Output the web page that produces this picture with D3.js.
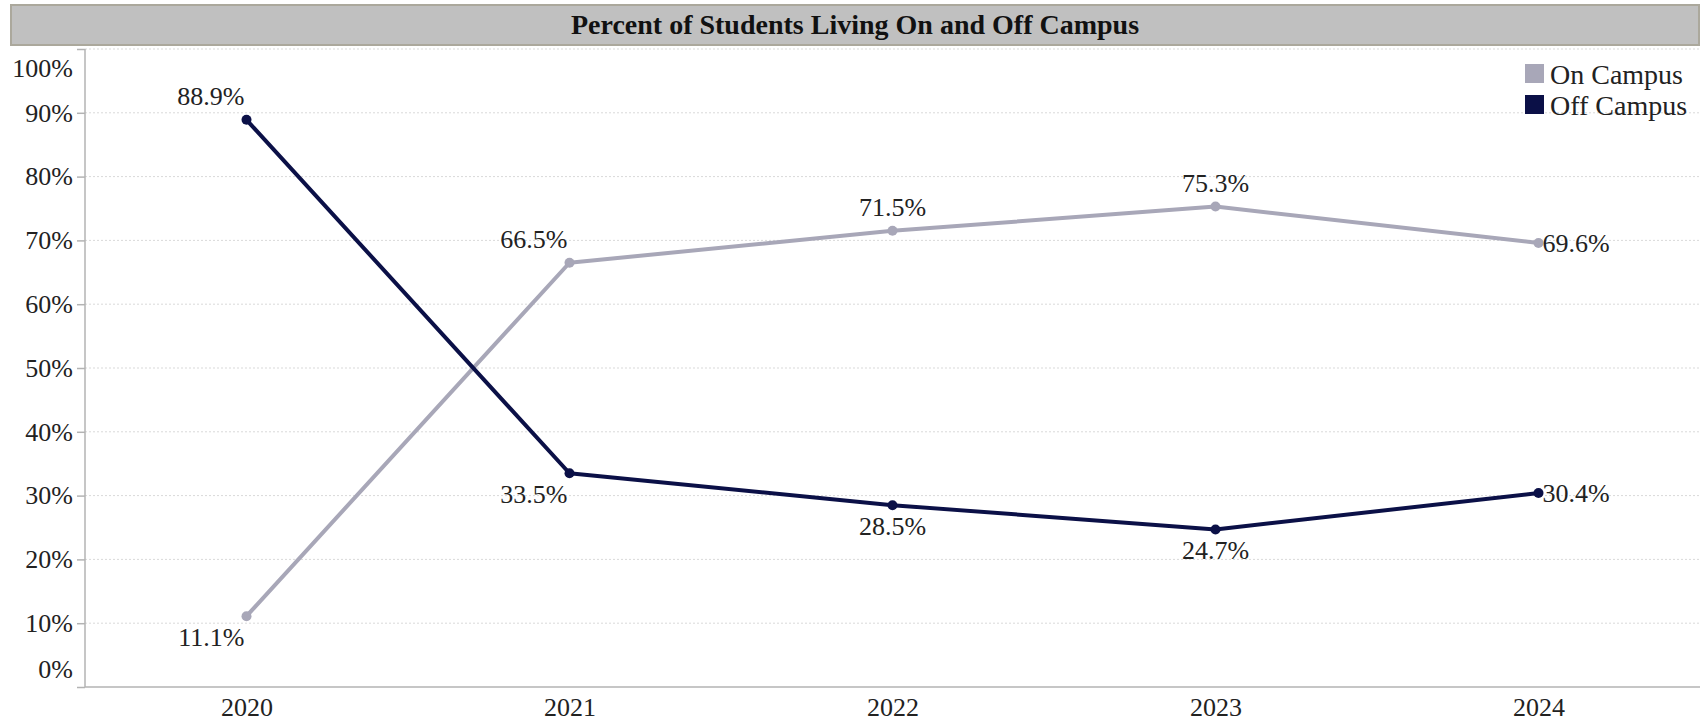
<!DOCTYPE html>
<html>
<head>
<meta charset="utf-8">
<script src="https://cdn.jsdelivr.net/npm/d3@7"></script>
<style>
  body { margin: 0; background: #fff; }
  svg { display: block; font-family: "Liberation Serif", "Times New Roman", serif; }
  .grid line { stroke: #d9d9d9; stroke-dasharray: 2,2; }
  .axis-line { stroke: #b3b3b3; stroke-width: 1.5; }
</style>
</head>
<body>
<div id="chart"></div>
<script>
const years = ["2020", "2021", "2022", "2023", "2024"];
const onCampus = [11.1, 66.5, 71.5, 75.3, 69.6];
const offCampus = [88.9, 33.5, 28.5, 24.7, 30.4];
const yTicks = [0, 10, 20, 30, 40, 50, 60, 70, 80, 90, 100];
const seriesNames = ["On Campus", "Off Campus"];
const seriesColors = ["#a8a7b8", "#0b1047"];
const title = "Percent of Students Living On and Off Campus";

class LineChart {
  constructor({ el }) {
    this.el = el;
    this.width = 1707;
    this.height = 722;
    this.init();
  }

  init() {
    this.series = [onCampus, offCampus].map((values, i) => ({
      name: seriesNames[i],
      color: seriesColors[i],
      values: values.map((v, j) => ({ year: years[j], value: v, i: j })),
    }));

    this.marginTop = 49;
    this.marginRight = 7;
    this.marginBottom = 35;
    this.marginLeft = 85;

    this.x = d3
      .scalePoint()
      .domain(years)
      .range([this.marginLeft, this.width - this.marginRight])
      .padding(0.5);

    this.y = d3
      .scaleLinear()
      .domain([0, 100])
      .range([this.height - this.marginBottom, this.marginTop]);

    this.line = d3
      .line()
      .x((d) => this.x(d.year))
      .y((d) => this.y(d.value));

    this.svg = d3
      .select(this.el)
      .append("svg")
      .attr("width", this.width)
      .attr("height", this.height)
      .attr("viewBox", [0, 0, this.width, this.height]);

    this.render();
  }

  render() {
    this.renderTitle();
    this.renderGrid();
    this.renderAxes();
    this.renderLines();
    this.renderLabels();
    this.renderLegend();
  }

  renderTitle() {
    const g = this.svg.append("g").attr("class", "title");
    g.append("rect")
      .attr("x", 11)
      .attr("y", 5)
      .attr("width", this.width - 11 - 8)
      .attr("height", 40)
      .attr("fill", "#c0c0c0")
      .attr("stroke", "#aba89c")
      .attr("stroke-width", 2);
    g.append("text")
      .attr("x", (11 + this.width - 8) / 2)
      .attr("y", 34)
      .attr("text-anchor", "middle")
      .attr("font-size", 28)
      .attr("font-weight", "bold")
      .attr("fill", "#111")
      .text(title);
  }

  renderGrid() {
    this.svg
      .append("g")
      .attr("class", "grid")
      .selectAll("line")
      .data(yTicks.filter((d) => d > 0))
      .join("line")
      .attr("x1", this.marginLeft)
      .attr("x2", this.width - this.marginRight)
      .attr("y1", (d) => this.y(d))
      .attr("y2", (d) => this.y(d));
  }

  renderAxes() {
    const [y0, y1] = this.y.range();

    const yAxis = d3
      .axisLeft(this.y)
      .tickValues(yTicks)
      .tickSize(8)
      .tickPadding(4)
      .tickFormat((d) => d + "%");

    const gy = this.svg
      .append("g")
      .attr("transform", `translate(${this.marginLeft},0)`)
      .call(yAxis)
      .attr("font-family", null)
      .attr("font-size", null);
    gy.select(".domain").remove();
    gy.selectAll(".tick line").attr("stroke", "#b3b3b3").attr("stroke-width", 1.5);
    gy.selectAll(".tick text")
      .attr("font-size", 26)
      .attr("fill", "#222")
      // keep the end labels inside the plot edges
      .attr("dy", (d) => (d === 0 ? "-0.35em" : d === 100 ? "1.05em" : "0.32em"));

    this.svg
      .append("line")
      .attr("class", "axis-line")
      .attr("x1", this.marginLeft)
      .attr("x2", this.marginLeft)
      .attr("y1", y1)
      .attr("y2", y0);

    this.svg
      .append("line")
      .attr("class", "axis-line")
      .attr("x1", this.marginLeft)
      .attr("x2", this.width - this.marginRight)
      .attr("y1", y0)
      .attr("y2", y0);

    const gx = this.svg
      .append("g")
      .attr("transform", `translate(0,${y0})`)
      .call(d3.axisBottom(this.x).tickSize(0).tickPadding(8))
      .attr("font-family", null)
      .attr("font-size", null);
    gx.select(".domain").remove();
    gx.selectAll(".tick text")
      .attr("font-size", 26)
      .attr("fill", "#222")
      .attr("dy", "0.8em");
  }

  renderLines() {
    const g = this.svg
      .append("g")
      .selectAll("g")
      .data(this.series)
      .join("g");

    g.append("path")
      .attr("fill", "none")
      .attr("stroke", (d) => d.color)
      .attr("stroke-width", 4)
      .attr("stroke-linejoin", "round")
      .attr("d", (d) => this.line(d.values));

    g.selectAll("circle")
      .data((d) => d.values.map((v) => ({ ...v, color: d.color })))
      .join("circle")
      .attr("cx", (d) => this.x(d.year))
      .attr("cy", (d) => this.y(d.value))
      .attr("r", 5)
      .attr("fill", (d) => d.color);
  }

  renderLabels() {
    const last = years.length - 1;
    const labels = [];
    this.series.forEach((s, si) => {
      const other = this.series[1 - si].values;
      s.values.forEach((d) => {
        const above = d.value >= other[d.i].value;
        // steep neighbouring segments push the label to the left of the point
        const prev = s.values[d.i - 1];
        const next = s.values[d.i + 1];
        const steep =
          (prev && Math.abs(prev.value - d.value) > 20) ||
          (next && Math.abs(next.value - d.value) > 20);
        labels.push({ ...d, above, steep, isLast: d.i === last });
      });
    });

    this.svg
      .append("g")
      .selectAll("text")
      .data(labels)
      .join("text")
      .attr("font-size", 26)
      .attr("fill", "#222")
      .attr("x", (d) => {
        const px = this.x(d.year);
        if (d.isLast) return px + 4;
        return d.steep ? px - 2 : px;
      })
      .attr("y", (d) => {
        const py = this.y(d.value);
        if (d.isLast) return py;
        return d.above ? py - 15 : py + 30;
      })
      .attr("dy", (d) => (d.isLast ? "0.33em" : null))
      .attr("text-anchor", (d) => (d.isLast ? "start" : d.steep ? "end" : "middle"))
      .text((d) => d.value.toFixed(1) + "%");
  }

  renderLegend() {
    const item = this.svg
      .append("g")
      .attr("transform", "translate(1525,64)")
      .selectAll("g")
      .data(this.series)
      .join("g")
      .attr("transform", (d, i) => `translate(0,${i * 31})`);

    item
      .append("rect")
      .attr("width", 19)
      .attr("height", 19)
      .attr("fill", (d) => d.color);

    item
      .append("text")
      .attr("x", 25)
      .attr("y", 10)
      .attr("dy", "0.35em")
      .attr("font-size", 28)
      .attr("fill", "#222")
      .text((d) => d.name);
  }
}

new LineChart({ el: document.getElementById("chart") });
</script>
</body>
</html>
